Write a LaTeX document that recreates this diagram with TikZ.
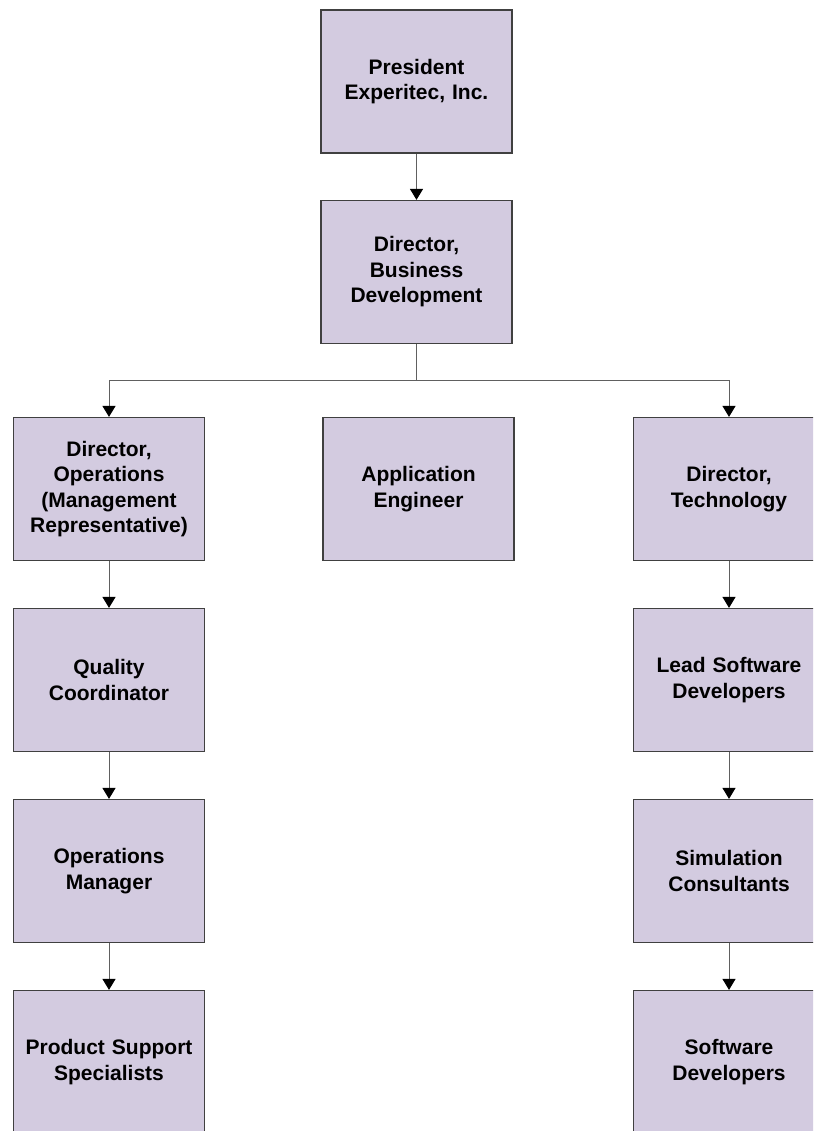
\documentclass[tikz,border=0pt]{standalone}
\usepackage{fontspec}
\setmainfont{Liberation Sans}
\usetikzlibrary{arrows.meta}
\definecolor{boxfill}{HTML}{D3CBE0}
\definecolor{boxline}{HTML}{404040}
\definecolor{conn}{HTML}{606060}
\begin{document}
\begin{tikzpicture}[x=1pt,y=-1pt,
  orgbox/.style={draw=boxline,line width=1.2pt,fill=boxfill,rectangle,
    minimum width=191pt,minimum height=143pt,inner sep=2pt,align=center,
    text width=185pt,
    font=\fontsize{21}{25.5}\selectfont\bfseries},
  link/.style={draw=conn,line width=1pt,-{Triangle[width=13pt,length=11pt,fill=black,color=black]}},
  plain/.style={draw=conn,line width=1pt}]
\clip (0,0) rectangle (813,1131);
\fill[white] (0,0) rectangle (813,1131);
\node[orgbox] (pres) at (416.5,81.5) {President\\Experitec, Inc.};
\node[orgbox] (bd) at (416.5,272) {Director,\\Business\\Development};
\node[orgbox] (ops) at (109,489) {Director,\\Operations\\(Management\\Representative)};
\node[orgbox] (app) at (418.5,489) {Application\\Engineer};
\node[orgbox] (tech) at (729,489) {Director,\\Technology};
\node[orgbox] (qc) at (109,680) {Quality\\Coordinator};
\node[orgbox] (lsd) at (729,680) {Lead Software\\Developers};
\node[orgbox] (om) at (109,871) {Operations\\Manager};
\node[orgbox] (sc) at (729,871) {Simulation\\Consultants};
\node[orgbox] (pss) at (109,1062) {Product Support\\Specialists};
\node[orgbox] (sd) at (729,1062) {Software\\Developers};
\coordinate (j) at (416.5,380);
\draw[plain] (bd.south) -- (j);
\draw[link] (j) -| (ops.north);
\draw[link] (j) -| (tech.north);
\draw[link] (pres) -- (bd);
\draw[link] (ops) -- (qc);
\draw[link] (qc) -- (om);
\draw[link] (om) -- (pss);
\draw[link] (tech) -- (lsd);
\draw[link] (lsd) -- (sc);
\draw[link] (sc) -- (sd);
\end{tikzpicture}
\end{document}
